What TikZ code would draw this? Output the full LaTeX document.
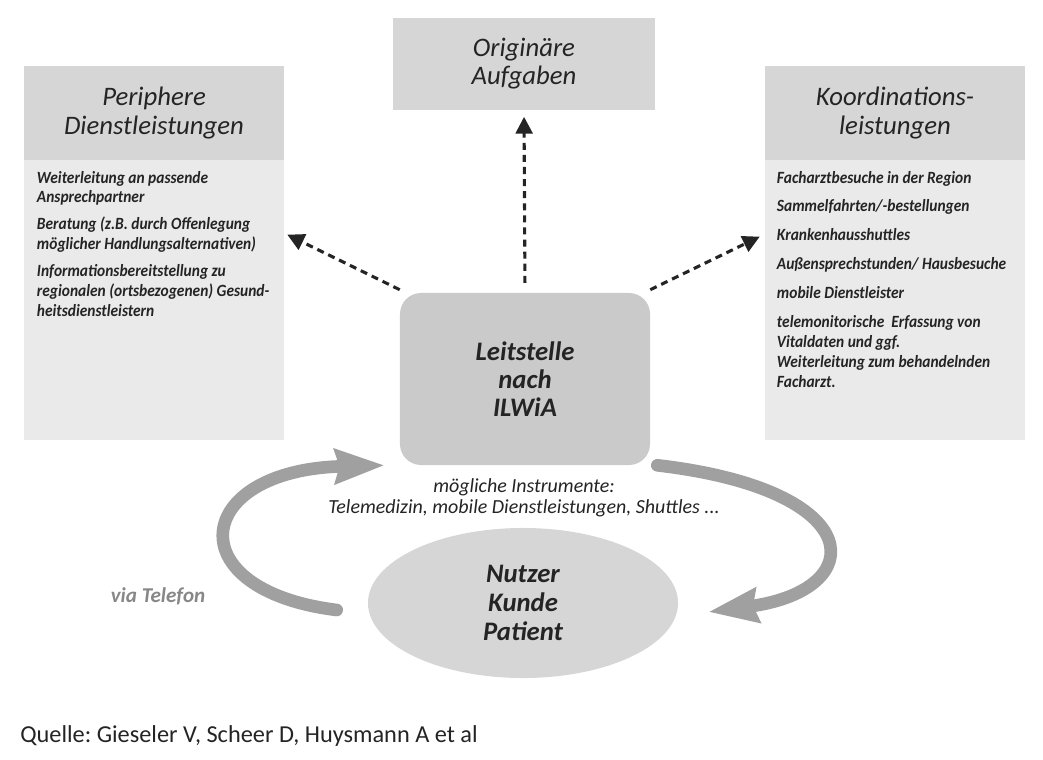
\documentclass[tikz,border=0pt]{standalone}
\usepackage{fontspec}
\setmainfont{Carlito}
\newfontfamily\condfont{Carlito}[FakeStretch=0.9]
\usetikzlibrary{calc,arrows.meta,positioning,shapes.geometric}
\frenchspacing
\definecolor{headGray}{RGB}{214,214,214}
\definecolor{bodyGray}{RGB}{234,234,234}
\definecolor{hubGray}{RGB}{202,202,202}
\definecolor{userGray}{RGB}{214,214,214}
\definecolor{loopGray}{RGB}{160,160,160}
\definecolor{inkGray}{RGB}{36,36,36}
\definecolor{softGray}{RGB}{135,135,135}

\tikzset{
  headbox/.style={fill=headGray, minimum width=6.5cm, minimum height=2.35cm, align=center,
    text=inkGray, font=\itshape\fontsize{19}{20}\selectfont},
  bodybox/.style={fill=bodyGray, minimum width=6.5cm, minimum height=7cm},
  itemtext/.style={anchor=north west, inner sep=0pt, align=left, text=inkGray,
    font=\condfont\bfseries\itshape\fontsize{12.2}{14.2}\selectfont},
  dasharrow/.style={draw=inkGray, line width=2.2pt, dash pattern=on 5pt off 3.6pt,
    -{Triangle[length=12pt,width=12pt]}},
  looparrow/.style={draw=loopGray, line width=9pt, line cap=round,
    -{Stealth[length=35pt,width=24pt,inset=3pt]}}
}

\begin{document}
\begin{tikzpicture}[x=0.025cm,y=-0.025cm]
\useasboundingbox (0,0) rectangle (1043,760);

% side panels
\node[headbox] (peri head) at (154,113) {Periphere\\Dienstleistungen};
\node[bodybox] (peri body) at (154,300) {};
\node[itemtext] (peri items) at ($(peri body.north west)+(13,11)$)
  {Weiterleitung an passende\\Ansprechpartner\\[5pt]
   Beratung (z.B. durch Offenlegung\\möglicher Handlungsalternativen)\\[5pt]
   Informationsbereitstellung zu\\regionalen (ortsbezogenen) Gesund-\\heitsdienstleistern};

\node[headbox] (koord head) at (895,113) {Koordinations-\\leistungen};
\node[bodybox] (koord body) at (895,300) {};
\node[itemtext] (koord items) at ($(koord body.north west)+(12,11)$)
  {Facharztbesuche in der Region\\[6.3pt]
   Sammelfahrten/-bestellungen\\[6.3pt]
   Krankenhausshuttles\\[6.3pt]
   Außensprechstunden/ Hausbesuche\\[6.3pt]
   mobile Dienstleister\\[6.3pt]
   telemonitorische\ \ Erfassung von\\Vitaldaten und ggf.\\
   Weiterleitung zum behandelnden\\Facharzt.};

\node[headbox, minimum width=6.55cm, minimum height=2.275cm] (orig) at (524,64) {Originäre\\Aufgaben};

% centre
\node[fill=hubGray, rounded corners=15pt, minimum width=6.25cm, minimum height=4.3cm,
  align=center, text=inkGray, font=\bfseries\itshape\fontsize{19}{19.8}\selectfont]
  (leit) at (525,379) {Leitstelle\\nach\\ILWiA};
\node[ellipse, fill=userGray, minimum width=7.75cm, minimum height=3.75cm,
  align=center, text=inkGray, font=\bfseries\itshape\fontsize{19}{20.5}\selectfont]
  (nutzer) at (523,603) {Nutzer\\Kunde\\Patient};

\node[align=center, text=inkGray, font=\itshape\fontsize{14.2}{15}\selectfont]
  (instr) at (524,498) {mögliche Instrumente:\\Telemedizin, mobile Dienstleistungen, Shuttles ...};

\node[text=softGray, font=\bfseries\itshape\fontsize{15}{17}\selectfont] (tel) at (158,596) {via Telefon};

% connectors
\draw[dasharrow, shorten <=7pt, shorten >=5pt] (leit.north) -- (orig.south);
\draw[dasharrow] ($(leit.north west)+(0,-3)$) -- ($(peri body.north east)+(3,75)$);
\draw[dasharrow] ($(leit.north east)+(0,-3)$) -- ($(koord body.north west)+(-5,77)$);

\draw[looparrow] ($(nutzer.west)+(-31,7)$) .. controls (176,590) and (192,470) .. ($(leit.south west)+(-15,0)$);
\draw[looparrow] ($(leit.south east)+(7,0)$) .. controls (870,490) and (870,590) .. ($(nutzer.east)+(30,9)$);

\node[anchor=base west, inner sep=0pt, text=inkGray, font=\fontsize{17.3}{20}\selectfont]
  (quelle) at (20,742) {Quelle: Gieseler V, Scheer D, Huysmann A et al};
\end{tikzpicture}
\end{document}
